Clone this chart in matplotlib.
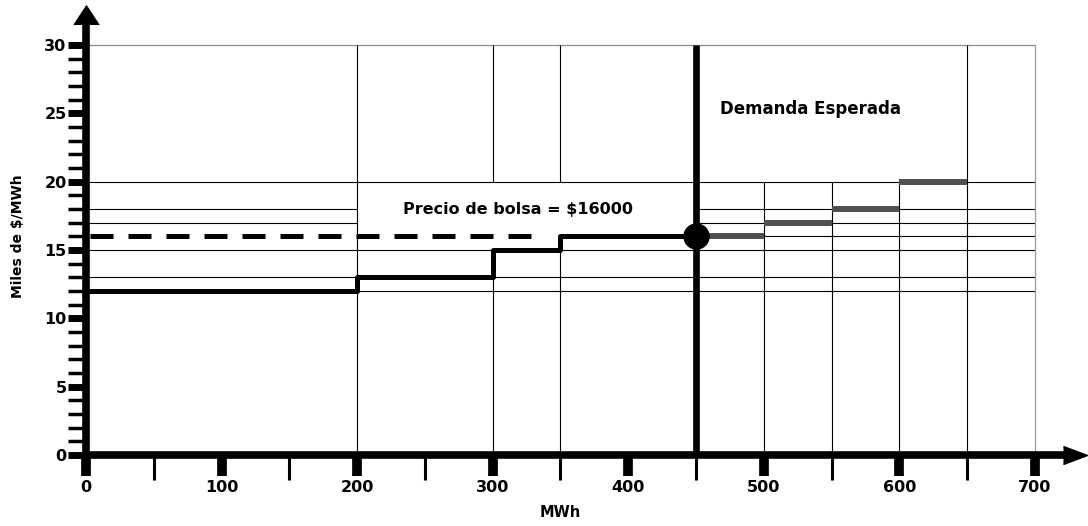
import numpy as np
import matplotlib.pyplot as plt
from matplotlib.ticker import FixedLocator

plt.rcParams['font.family'] = ['DejaVu Sans']
plt.rcParams['font.weight'] = 'bold'

# Curva de oferta (MWh, miles de $/MWh)
supply_x = [0, 200, 300, 350, 450]
supply_y = [12, 13, 15, 16, 16]

# ofertas por encima de la demanda esperada
extra_x0 = [450, 500, 550, 600]
extra_x1 = [500, 550, 600, 650]
extra_y = [16, 17, 18, 20]

demand = 450
price = 16
dashed_x = [3, 328]

# lineas de referencia
grid_y_full = [12, 13, 15, 20]
grid_y_split = [17, 18]          # cortadas entre 200 y 450
grid_x_full = [200, 650]
grid_x_gap = [300, 350]          # cortadas entre el escalon y 20
grid_x_gap_low = [15, 16]
grid_x_short = [500, 550, 600]

x_ticks = [0, 100, 200, 300, 400, 500, 600, 700]
y_ticks = [0, 5, 10, 15, 20, 25, 30]

fig = plt.figure(figsize=(10.88, 5.26), dpi=100)
ax = fig.add_axes([0.0541, 0.0831, 0.947, 0.9144])
ax.set_xlim(-20, 740)
ax.set_ylim(-2, 33.2)
for s in ax.spines.values():
    s.set_visible(False)
ax.spines['left'].set_position(('data', 0))
ax.spines['bottom'].set_position(('data', 0))

# grid
ax.hlines(grid_y_full, 0, 700, color='black', lw=0.8)
ax.hlines(grid_y_split, 0, 200, color='black', lw=0.8)
ax.hlines(grid_y_split, demand, 700, color='black', lw=0.8)
ax.hlines(price, demand, 700, color='black', lw=0.8)
ax.hlines(30, 0, 700, color='#8c8c8c', lw=0.9)
ax.vlines(grid_x_full, 0, 30, color='black', lw=0.8)
ax.vlines(grid_x_gap, 0, grid_x_gap_low, color='black', lw=0.8)
ax.vlines(grid_x_gap, 20, 30, color='black', lw=0.8)
ax.vlines(grid_x_short, 0, 20, color='black', lw=0.8)
ax.vlines(700, 0, 30, color='#9a9a9a', lw=0.9)

# oferta
ax.step(supply_x, supply_y, where='post', color='black', lw=3.6, zorder=4)
ax.hlines(extra_y, extra_x0, extra_x1, color='#505050', lw=4.3, zorder=4)
ax.plot(dashed_x, [price, price], color='black', lw=3.6, dashes=(4.6, 3.0),
        dash_capstyle='butt', zorder=4)

# demanda
ax.vlines(demand, 0, 30, color='black', lw=4.8, zorder=5)
ax.plot(demand, price, 'o', ms=18, color='black', zorder=6)

# ejes con flechas
ax.plot([0, 0], [0, 31.5], color='black', lw=5.5, solid_capstyle='butt', clip_on=False, zorder=7)
ax.plot([0, 728], [0, 0], color='black', lw=5.5, solid_capstyle='butt', clip_on=False, zorder=7)
ax.plot(729.5, 0, marker=[(-1, -0.75), (1, 0), (-1, 0.75)], ms=17.3, color='black',
        clip_on=False, zorder=7)
ax.plot(0, 32.0, marker=[(-1, -0.52), (0, 1), (1, -0.52)], ms=18, color='black',
        clip_on=False, zorder=7)

# ticks
ax.xaxis.set_major_locator(FixedLocator(x_ticks))
ax.xaxis.set_minor_locator(FixedLocator(list(range(0, 701, 50))))
ax.yaxis.set_major_locator(FixedLocator(y_ticks))
ax.yaxis.set_minor_locator(FixedLocator(list(range(0, 31))))
ax.tick_params(axis='x', which='major', length=15, width=7, direction='out', pad=3, labelsize=11.5)
ax.tick_params(axis='x', which='minor', length=18, width=2.2, direction='out')
ax.tick_params(axis='y', which='major', length=13, width=5, direction='out', pad=1, labelsize=11.5)
ax.tick_params(axis='y', which='minor', length=13, width=2.5, direction='out')

# textos
ax.text(319, 18.0, 'Precio de bolsa = $16000', ha='center', va='center', fontsize=11.5)
ax.text(534.5, 25.3, 'Demanda Esperada', ha='center', va='center', fontsize=12)
ax.text(349.5, -4.24, 'MWh', ha='center', va='center', fontsize=10.5)
ax.text(-50.2, 16.0, 'Miles de $/MWh', ha='center', va='center', rotation=90, fontsize=10)

fig.savefig('out.png', dpi=100)
